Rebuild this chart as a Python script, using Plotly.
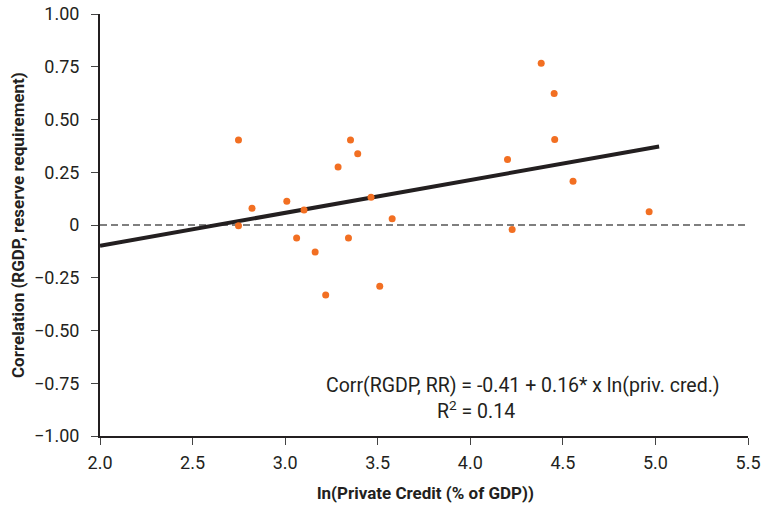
import plotly.graph_objects as go

# Scatter data: ln(private credit) vs correlation
ln_credit = [2.748, 2.821, 2.748, 3.009, 3.102, 3.286, 3.353, 3.392, 3.464, 3.578,
             3.062, 3.162, 3.342, 3.219, 3.511,
             4.383, 4.453, 4.456, 4.201, 4.555, 4.966, 4.226]
correlation = [0.403, 0.079, -0.003, 0.112, 0.071, 0.275, 0.403, 0.338, 0.131, 0.030,
               -0.062, -0.128, -0.062, -0.332, -0.290,
               0.767, 0.623, 0.405, 0.310, 0.207, 0.063, -0.021]

# Fitted line endpoints
fit_x = [2.0, 5.02]
fit_y = [-0.098, 0.372]

x_ticks = [2.0, 2.5, 3.0, 3.5, 4.0, 4.5, 5.0, 5.5]
x_tick_labels = ["2.0", "2.5", "3.0", "3.5", "4.0", "4.5", "5.0", "5.5"]
y_ticks = [1.0, 0.75, 0.5, 0.25, 0.0, -0.25, -0.5, -0.75, -1.0]
y_tick_labels = ["1.00", "0.75", "0.50", "0.25", "0", "\u22120.25", "\u22120.50", "\u22120.75", "\u22121.00"]

FONT = "Roboto, Arial"
INK = "#231F20"

W, H = 764, 505
ml, mr, mt, mb = 100, 16, 14, 69
pw, ph = W - ml - mr, H - mt - mb


def px_to_paper(px, py):
    return (px - ml) / pw, 1 - (py - mt) / ph


def add_text(px, py, text, size, angle=0):
    ax, ay = px_to_paper(px, py)
    fig.add_annotation(x=ax, y=ay, xref="paper", yref="paper", showarrow=False,
                       xanchor="center", yanchor="middle", textangle=angle,
                       text=text, font=dict(family=FONT, size=size, color=INK))


fig = go.Figure()
fig.add_trace(go.Scatter(x=fit_x, y=fit_y, mode="lines",
                         line=dict(color=INK, width=4), showlegend=False))
fig.add_trace(go.Scatter(x=ln_credit, y=correlation, mode="markers",
                         marker=dict(color="#F26F22", size=7), showlegend=False))

fig.add_shape(type="line", x0=2.0, x1=5.495, y0=0, y1=0, xref="x", yref="y",
              line=dict(color="#000000", width=1.2, dash="7px,4px"), layer="below")

add_text(523, 385, "Corr(RGDP, RR) = -0.41 + 0.16* x ln(priv. cred.)", 19.5)
add_text(476, 410, "R<sup>2</sup> = 0.14", 19.5)
add_text(425, 493, "<b>ln(Private Credit (% of GDP))</b>", 17)
add_text(18, 225, "<b>Correlation (RGDP, reserve requirement)</b>", 17, angle=-90)

fig.update_layout(
    width=W, height=H,
    margin=dict(l=ml, r=mr, t=mt, b=mb, autoexpand=False),
    plot_bgcolor="white", paper_bgcolor="white",
    font=dict(family=FONT, size=18, color=INK),
    xaxis=dict(range=[2.0, 5.5], tickvals=x_ticks, ticktext=x_tick_labels,
               automargin=False,
               showgrid=False, zeroline=False, showline=True, linecolor=INK,
               linewidth=2, ticks="outside", ticklen=7, tickcolor="#444444",
               ticklabelstandoff=2),
    yaxis=dict(range=[-1.0, 1.0], tickvals=y_ticks, ticktext=y_tick_labels,
               automargin=False,
               showgrid=False, zeroline=False, showline=True, linecolor=INK,
               linewidth=2, ticks="outside", ticklen=7, tickcolor="#444444",
               ticklabelstandoff=8),
)

fig.write_html("out.html", config={"displayModeBar": False},
               post_script="document.body.style.margin='0px';")
